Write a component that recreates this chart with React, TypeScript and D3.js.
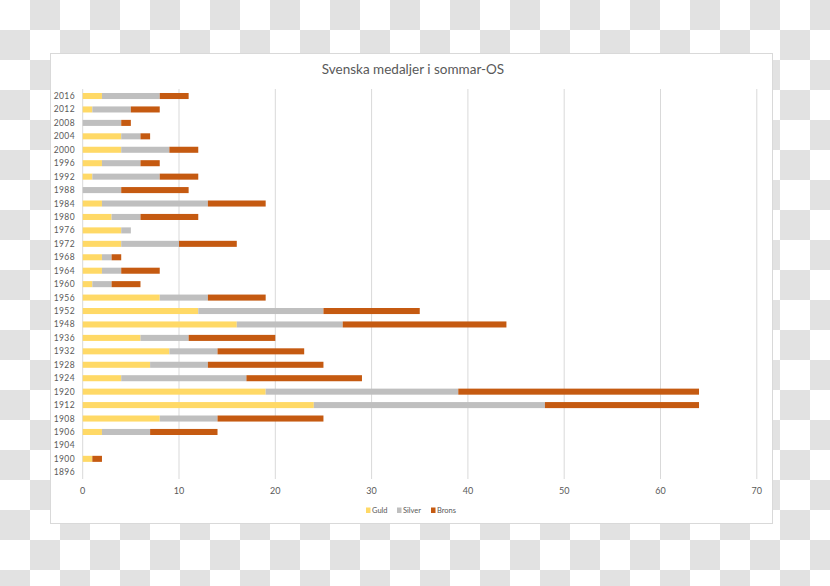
import React from "react";
import * as d3 from "d3";

const years = ["1896","1900","1904","1906","1908","1912","1920","1924","1928","1932","1936","1948","1952","1956","1960","1964","1968","1972","1976","1980","1984","1988","1992","1996","2000","2004","2008","2012","2016"];
const guld =   [0,1,0,2,8,24,19,4,7,9,6,16,12,8,1,2,2,4,4,3,2,0,1,2,4,4,0,1,2];
const silver = [0,0,0,5,6,24,20,13,6,5,5,11,13,5,2,2,1,6,1,3,11,4,7,4,5,2,4,4,6];
const brons =  [0,1,0,7,11,16,25,12,12,9,9,17,10,6,3,4,1,6,0,6,6,7,4,2,3,1,1,3,3];
const seriesNames = ["Guld", "Silver", "Brons"];
const xTicks = [0, 10, 20, 30, 40, 50, 60, 70];

const colors = ["#FFD966", "#BFBFBF", "#C55A11"];
const FONT = "Lato, 'Open Sans', sans-serif";

export default function App() {
  const W = 830, H = 586;
  const x = d3.scaleLinear().domain([0, 70]).range([82.7, 756.8]);
  const yOrder = [...years].reverse();
  const y = d3.scaleBand().domain(yOrder).range([89.3, 479]).paddingInner(0.55).paddingOuter(0.275);

  const table = years.map((yr, i) => ({ year: yr, Guld: guld[i], Silver: silver[i], Brons: brons[i] }));
  const stacked = d3.stack<any>().keys(seriesNames)(table);

  const legendItems = [
    { sx: 366, tx: 372 },
    { sx: 397, tx: 403 },
    { sx: 431, tx: 437 },
  ];

  return (
    <svg width={W} height={H} style={{ position: "fixed", left: 0, top: 0 }} xmlns="http://www.w3.org/2000/svg">
      <defs>
        <pattern id="checker" patternUnits="userSpaceOnUse" width={60} height={60} x={0} y={0}>
          <rect x={0} y={0} width={60} height={60} fill="#ffffff" />
          <rect x={30} y={0} width={30} height={30} fill="#e2e2e2" />
          <rect x={0} y={30} width={30} height={30} fill="#e2e2e2" />
        </pattern>
      </defs>
      <rect x={0} y={0} width={W} height={H} fill="url(#checker)" />
      <rect x={50.5} y={53.5} width={722} height={470} fill="#ffffff" stroke="#d9d9d9" strokeWidth={1} />
      <text x={413} y={74} textAnchor="middle" fontFamily={FONT} fontSize={13.5} fill="#595959">Svenska medaljer i sommar-OS</text>

      {xTicks.map((t) => (
        <g key={t}>
          <line x1={x(t)} x2={x(t)} y1={89} y2={479} stroke="#d9d9d9" strokeWidth={1} />
          <text x={x(t)} y={494} textAnchor="middle" fontFamily={FONT} fontSize={9} fill="#595959">{t}</text>
        </g>
      ))}

      {stacked.map((s, si) => (
        <g key={s.key} fill={colors[si]}>
          {s.map((d: any, i: number) => (
            d[1] - d[0] > 0 ? (
              <rect key={i} x={x(d[0])} y={y(d.data.year)} width={x(d[1]) - x(d[0])} height={y.bandwidth()} />
            ) : null
          ))}
        </g>
      ))}

      {yOrder.map((yr) => (
        <text key={yr} x={75} y={(y(yr) as number) + y.bandwidth() / 2 + 3} textAnchor="end" fontFamily={FONT} fontSize={8.5} letterSpacing={0.4} fill="#595959">{yr}</text>
      ))}

      {legendItems.map((l, i) => (
        <g key={seriesNames[i]}>
          <rect x={l.sx} y={507.5} width={4.5} height={5.5} fill={colors[i]} />
          <text x={l.tx} y={513} fontFamily={FONT} fontSize={7.5} fill="#595959">{seriesNames[i]}</text>
        </g>
      ))}
    </svg>
  );
}
